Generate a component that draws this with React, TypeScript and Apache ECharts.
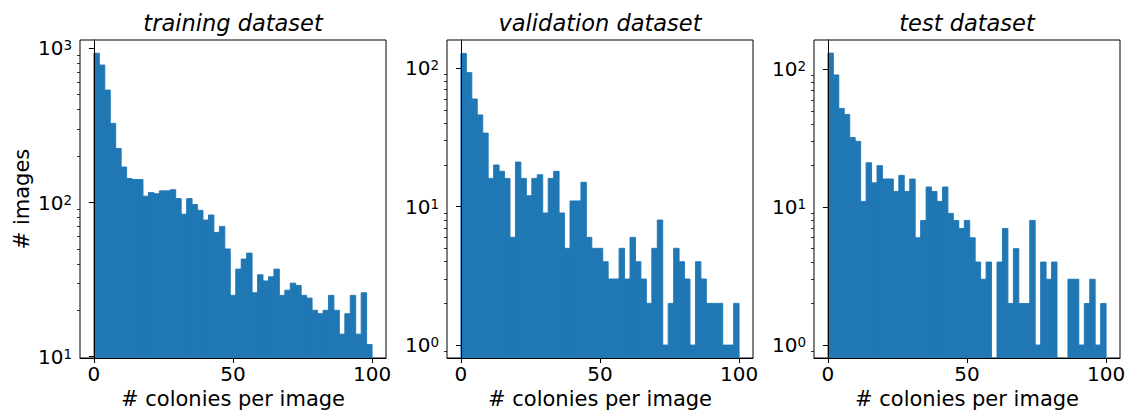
import React, { useEffect, useRef } from 'react';
import * as echarts from 'echarts';

const TITLES = ['training dataset', 'validation dataset', 'test dataset'];
const X_LABEL = '# colonies per image';
const Y_LABEL = '# images';
const X_TICKS = [0, 50, 100];
const BIN_COUNT = 51;
const BIN_MIN = 0;
const BIN_MAX = 100;

const TRAIN_COUNTS = [929, 779, 536, 326, 224, 170, 143, 141, 141, 110, 116, 114, 119, 119, 121, 106, 84, 106, 97, 89, 77, 83, 64, 70, 50, 25, 37, 43, 47, 26, 34, 31, 33, 37, 25, 27, 30, 29, 25, 24, 20, 19, 20, 25, 20, 14, 19, 25, 14, 26, 12];
const VALID_COUNTS = [128, 93, 60, 46, 34, 16, 20, 18, 16, 6, 21, 16, 12, 16, 17, 9, 16, 18, 9, 5, 11, 11, 15, 6, 5, 5, 4, 3, 3, 5, 3, 6, 4, 3, 2, 5, 8, 1, 2, 5, 4, 3, 1, 4, 3, 2, 2, 2, 1, 1, 2];
const TEST_COUNTS = [131, 91, 52, 47, 32, 30, 11, 21, 15, 20, 16, 16, 13, 17, 13, 16, 6, 8, 14, 13, 11, 14, 9, 8, 7, 8, 6, 4, 3, 4, 0, 4, 7, 2, 5, 2, 2, 8, 1, 4, 3, 4, 0, 0, 3, 3, 1, 2, 3, 1, 2];

const PANELS = [TRAIN_COUNTS, VALID_COUNTS, TEST_COUNTS];
const Y_MIN = [9.81, 0.806, 0.805];
const Y_MAX = [1132, 160, 163];
const Y_MAJOR = [[10, 100, 1000], [1, 10, 100], [1, 10, 100]];

const FONT = 'DejaVu Sans';
const BAR_COLOR = '#1f77b4';
const LEFTS = [80, 447, 814];
const GRID_TOP = 40;
const GRID_W = 306;
const GRID_H = 318;

function minorTicks(min: number, max: number): number[] {
  const out: number[] = [];
  for (let e = -2; e <= 4; e++) {
    for (let m = 2; m <= 9; m++) {
      const v = m * Math.pow(10, e);
      if (v >= min && v <= max) out.push(v);
    }
  }
  return out;
}

function supLabel(v: number): string {
  const e = Math.round(Math.log10(v));
  return `{b|10}{s|${e}}`;
}

export default function App() {
  const ref = useRef<HTMLDivElement>(null);
  useEffect(() => {
    if (!ref.current) return;
    const chart = echarts.init(ref.current, null, { renderer: 'svg' });
    const binW = (BIN_MAX - BIN_MIN) / BIN_COUNT;

    const grid: any[] = [];
    const xAxis: any[] = [];
    const yAxis: any[] = [];
    const series: any[] = [];
    const title: any[] = [];

    PANELS.forEach((counts, p) => {
      grid.push({
        left: LEFTS[p], top: GRID_TOP, width: GRID_W, height: GRID_H,
        show: true, borderColor: '#000', borderWidth: 1,
        backgroundColor: 'transparent', containLabel: false, outerBoundsMode: 'none',
      });
      title.push({
        text: TITLES[p],
        left: LEFTS[p] + GRID_W / 2,
        textAlign: 'center',
        top: 11,
        padding: 0,
        textStyle: { fontFamily: FONT, fontStyle: 'italic', fontWeight: 'normal', fontSize: 22.5, color: '#000' },
      });
      xAxis.push({
        type: 'value', gridIndex: p, min: -5, max: 105, z: 10,
        splitLine: { show: false },
        axisLine: { show: true, onZero: false, lineStyle: { color: '#000', width: 1 } },
        axisTick: { show: true, customValues: X_TICKS, length: 5, lineStyle: { color: '#000', width: 1 } },
        axisLabel: { show: true, customValues: X_TICKS, margin: 6, fontFamily: FONT, fontSize: 20, color: '#000' },
        name: X_LABEL, nameLocation: 'middle', nameGap: 22,
        nameTextStyle: { fontFamily: FONT, fontSize: 21, color: '#000', verticalAlign: 'top' },
      });
      yAxis.push({
        type: 'log', logBase: 10, gridIndex: p, min: Y_MIN[p], max: Y_MAX[p], z: 10,
        splitLine: { show: false },
        axisLine: { show: true, lineStyle: { color: '#000', width: 1 } },
        axisTick: { show: true, customValues: Y_MAJOR[p], length: 5, lineStyle: { color: '#000', width: 1 } },
        axisLabel: {
          show: true, customValues: Y_MAJOR[p], margin: 8,
          formatter: (v: number) => supLabel(v),
          rich: {
            b: { fontFamily: FONT, fontSize: 20, lineHeight: 20, color: '#000' },
            s: { fontFamily: FONT, fontSize: 13.5, lineHeight: 12, verticalAlign: 'top', color: '#000' },
          },
        },
        ...(p === 0
          ? {
              name: Y_LABEL, nameLocation: 'middle', nameGap: 48,
              nameTextStyle: { fontFamily: FONT, fontSize: 21, color: '#000' },
            }
          : {}),
      });
      yAxis.push({
        type: 'log', logBase: 10, gridIndex: p, min: Y_MIN[p], max: Y_MAX[p], z: 10,
        position: 'left',
        splitLine: { show: false },
        axisLine: { show: false },
        axisLabel: { show: false },
        axisTick: { show: true, customValues: minorTicks(Y_MIN[p], Y_MAX[p]), length: 3, lineStyle: { color: '#000', width: 0.8 } },
      });
      series.push({
        type: 'custom',
        xAxisIndex: p,
        yAxisIndex: p * 2,
        encode: { x: [0, 1], y: 2 },
        data: counts.map((c, i) => [BIN_MIN + i * binW, BIN_MIN + (i + 1) * binW, c]),
        renderItem: (params: any, api: any) => {
          const x0 = api.value(0);
          const x1 = api.value(1);
          const c = api.value(2);
          if (!(c > 0)) return null;
          const pTop = api.coord([x0, c]);
          const pEnd = api.coord([x1, c]);
          const bottom = params.coordSys.y + params.coordSys.height;
          return {
            type: 'rect',
            shape: { x: pTop[0], y: pTop[1], width: pEnd[0] - pTop[0], height: bottom - pTop[1] },
            style: { fill: BAR_COLOR, stroke: BAR_COLOR, lineWidth: 0.9 },
          };
        },
      });
    });

    chart.setOption({
      animation: false,
      backgroundColor: '#fff',
      title,
      grid,
      xAxis,
      yAxis,
      series,
    });
    return () => chart.dispose();
  }, []);

  return <div ref={ref} style={{ position: 'absolute', left: 0, top: 0, width: 1128, height: 410 }} />;
}
